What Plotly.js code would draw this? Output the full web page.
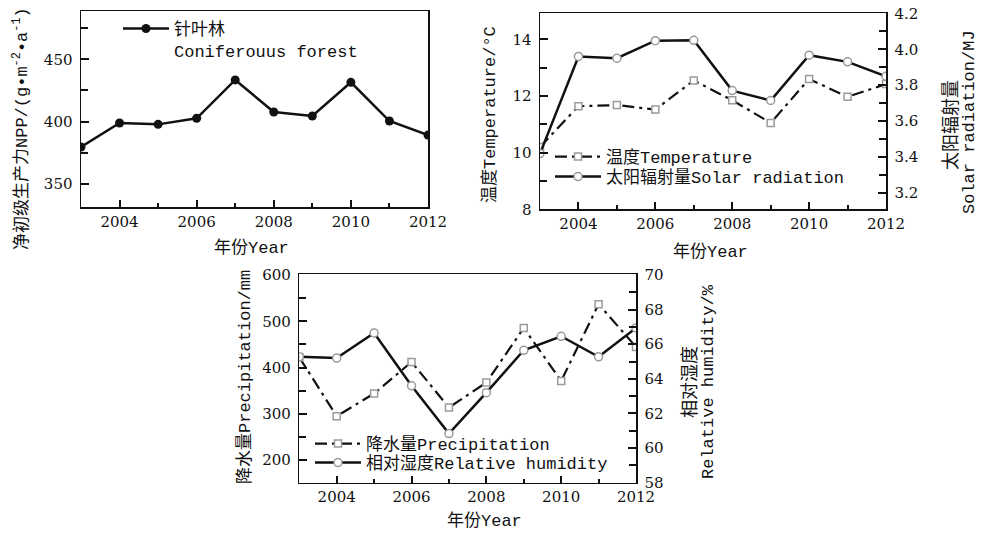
<!DOCTYPE html>
<html>
<head>
<meta charset="utf-8">
<script src="https://cdn.plot.ly/plotly-3.0.1.min.js"></script>
<style>html,body{margin:0;padding:0;background:#fff;}#chart{width:982px;height:534px;}</style>
</head>
<body>
<div id="chart"></div>
<script>
// Data
const years = [2003, 2004, 2005, 2006, 2007, 2008, 2009, 2010, 2011, 2012];
const nppConiferous = [379.5, 398.8, 397.7, 402.6, 433.4, 407.6, 404.4, 431.5, 400.4, 389.1];
const temperature = [10.2, 11.64, 11.68, 11.52, 12.55, 11.85, 11.05, 12.60, 11.97, 12.42];
const solarRadiation = [3.42, 3.96, 3.95, 4.048, 4.05, 3.77, 3.715, 3.967, 3.93, 3.85];
const precipitation = [422, 294.7, 343.8, 412, 313.5, 367.6, 485.6, 371, 536.9, 444.5];
const humidity = [65.27, 65.2, 66.65, 63.6, 60.84, 63.2, 65.65, 66.46, 65.27, 66.94];

const nppName = "针叶林<br>Coniferouus forest";
const tempName = "温度Temperature";
const solarName = "太阳辐射量Solar radiation";
const precipName = "降水量Precipitation";
const humidName = "相对湿度Relative humidity";

const INK = "#111111";
const MONO = "Liberation Mono, Noto Sans CJK SC, monospace";
const SERIF = "DejaVu Serif, Noto Sans CJK SC, serif";
const dashDot = "12px,5px,3px,5px";
const openMarkerLine = {color: "#9a9a9a", width: 1.5};

const traces = [
  {x: years, y: nppConiferous, name: nppName, type: "scatter", mode: "lines+markers",
   xaxis: "x", yaxis: "y", legend: "legend",
   line: {color: INK, width: 2.5}, marker: {symbol: "circle", size: 9, color: INK}},
  {x: years, y: temperature, name: tempName, type: "scatter", mode: "lines+markers",
   xaxis: "x2", yaxis: "y2", legend: "legend2",
   line: {color: INK, width: 2.2, dash: dashDot},
   marker: {symbol: "square", size: 7, color: "#ffffff", line: openMarkerLine}},
  {x: years, y: solarRadiation, name: solarName, type: "scatter", mode: "lines+markers",
   xaxis: "x2", yaxis: "y3", legend: "legend4",
   line: {color: INK, width: 2.5},
   marker: {symbol: "circle", size: 8, color: "#ffffff", line: openMarkerLine}},
  {x: years, y: precipitation, name: precipName, type: "scatter", mode: "lines+markers",
   xaxis: "x3", yaxis: "y4", legend: "legend3",
   line: {color: INK, width: 2.2, dash: dashDot},
   marker: {symbol: "square", size: 7, color: "#ffffff", line: openMarkerLine}},
  {x: years, y: humidity, name: humidName, type: "scatter", mode: "lines+markers",
   xaxis: "x3", yaxis: "y5", legend: "legend5",
   line: {color: INK, width: 2.5},
   marker: {symbol: "circle", size: 8, color: "#ffffff", line: openMarkerLine}}
];

const W = 982, H = 534;
const px = v => v / W;
const py = v => 1 - v / H;

function xAx(domain, anchor) {
  return {domain: domain, anchor: anchor, range: [2003, 2012], tick0: 2004, dtick: 2,
    ticks: "inside", ticklen: 7, tickwidth: 2, tickcolor: INK,
    minor: {dtick: 1, ticks: "inside", ticklen: 4, tickwidth: 2, tickcolor: INK},
    showline: true, mirror: true, linecolor: INK, linewidth: 1.5,
    showgrid: false, zeroline: false, fixedrange: true,
    tickfont: {family: SERIF, size: 15, color: INK}};
}
function yAx(domain, anchor, range, dtick, minorDtick, side, overlaying, fmt) {
  const a = {domain: domain, anchor: anchor, range: range, dtick: dtick, tick0: 0,
    ticks: "inside", ticklen: 8, tickwidth: 2, tickcolor: INK,
    minor: {dtick: minorDtick, ticks: "inside", ticklen: 7, tickwidth: 2, tickcolor: INK},
    showline: true, linecolor: INK, linewidth: 1.5,
    showgrid: false, zeroline: false, fixedrange: true, ticklabelstandoff: 4,
    tickfont: {family: SERIF, size: 15, color: INK}};
  if (side) a.side = side;
  if (overlaying) a.overlaying = overlaying; else a.mirror = true;
  if (fmt) a.tickformat = fmt;
  return a;
}

const d1x = [px(81), px(428)], d1y = [py(207), py(11)];
const d2x = [px(540), px(886)], d2y = [py(209.3), py(13.3)];
const d3x = [px(299.3), px(636)], d3y = [py(482.7), py(274.3)];

function legendAt(x, y, yanchor, valign) {
  return {x: x, y: y, xanchor: "left", yanchor: yanchor, bgcolor: "rgba(0,0,0,0)",
    borderwidth: 0, itemwidth: 46, tracegroupgap: 0, valign: valign || "middle",
    font: {family: MONO, size: 17, color: INK}, itemclick: false, itemdoubleclick: false};
}

function ann(text, x, y, angle, size) {
  return {text: text, x: px(x), y: py(y), xref: "paper", yref: "paper",
    xanchor: "center", yanchor: "middle", showarrow: false,
    textangle: angle || 0, font: {family: MONO, size: size || 17, color: INK}, align: "center"};
}

const layout = {
  width: W, height: H,
  margin: {l: 0, r: 0, t: 0, b: 0},
  paper_bgcolor: "#ffffff", plot_bgcolor: "#ffffff",
  showlegend: true,
  xaxis: xAx(d1x, "y"),
  yaxis: yAx(d1y, "x", [331.3, 488.8], 50, 25),
  xaxis2: xAx(d2x, "y2"),
  yaxis2: yAx(d2y, "x2", [8, 14.92], 2, 1),
  yaxis3: yAx(d2y, "x2", [3.11, 4.2], 0.2, 0.1, "right", "y2", ".1f"),
  xaxis3: xAx(d3x, "y4"),
  yaxis4: yAx(d3y, "x3", [151, 601.5], 100, 50),
  yaxis5: yAx(d3y, "x3", [58, 70.04], 2, 1, "right", "y4"),
  legend: legendAt(px(118), py(11), "top", "top"),
  legend2: legendAt(px(550), py(157), "middle"),
  legend4: legendAt(px(550), py(177), "middle"),
  legend3: legendAt(px(310), py(444), "middle"),
  legend5: legendAt(px(310), py(463), "middle"),
  annotations: [
    ann("净初级生产力NPP/(g•m<sup>-2</sup>•a<sup>-1</sup>)", 21, 129, -90, 17),
    ann("年份Year", 251, 248),
    ann("温度Temperature/°C", 490, 115, -90),
    ann("太阳辐射量", 951, 125, -90, 18),
    ann("Solar radiation/MJ", 969, 122, -90),
    ann("年份Year", 710, 252),
    ann("降水量Precipitation/mm", 245, 377, -90),
    ann("相对湿度", 690, 382, -90, 18),
    ann("Relative humidity/%", 708, 382, -90),
    ann("年份Year", 484, 521)
  ]
};

Plotly.newPlot("chart", traces, layout, {displayModeBar: false, staticPlot: true});
</script>
</body>
</html>
